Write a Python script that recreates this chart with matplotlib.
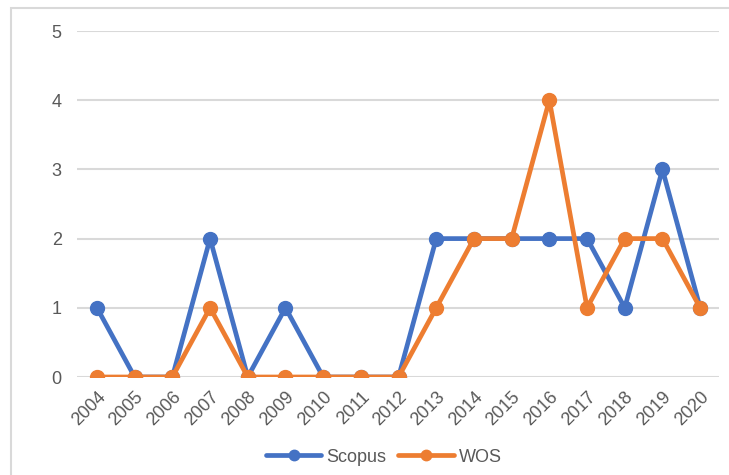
import matplotlib.pyplot as plt
from matplotlib.patches import Rectangle

# ==============================================
# Data
# ==============================================
years = ['2004', '2005', '2006', '2007', '2008', '2009', '2010', '2011', '2012',
         '2013', '2014', '2015', '2016', '2017', '2018', '2019', '2020']
scopus = [1, 0, 0, 2, 0, 1, 0, 0, 0, 2, 2, 2, 2, 2, 1, 3, 1]
wos = [0, 0, 0, 1, 0, 0, 0, 0, 0, 1, 2, 2, 4, 1, 2, 2, 1]

plt.rcParams['font.family'] = ['Liberation Sans', 'DejaVu Sans']

fig = plt.figure(figsize=(7.29, 4.75), dpi=100)
ax = fig.add_axes([77 / 729, 98 / 475, 642 / 729, 346 / 475])

# chart-area border (Excel style)
fig.patches.append(Rectangle((11 / 729, -0.05), 1.0, (475 - 8) / 475 + 0.05,
                             transform=fig.transFigure, fill=False,
                             edgecolor='#D9D9D9', linewidth=1.5))

x = range(len(years))
ax.plot(x, scopus, color='#4472C4', linewidth=3.4, marker='o', markersize=10,
        label='Scopus', solid_capstyle='round', zorder=3)
ax.plot(x, wos, color='#ED7D31', linewidth=3.4, marker='o', markersize=10,
        label='WOS', solid_capstyle='round', zorder=4)

ax.set_xlim(-0.53, len(years) - 0.5)
ax.set_ylim(0, 5)
ax.set_yticks(range(6))
ax.yaxis.grid(True, color='#D9D9D9', linewidth=1.5)
ax.set_axisbelow(True)
for s in ['top', 'right', 'left', 'bottom']:
    ax.spines[s].set_visible(False)

ax.set_xticks(list(x))
ax.set_xticklabels(years, rotation=45, ha='right', rotation_mode='anchor')
ax.tick_params(axis='both', length=0, labelsize=13, labelcolor='#595959')
ax.tick_params(axis='y', pad=11)
ax.tick_params(axis='x', pad=8)

ax.legend(loc='center', bbox_to_anchor=(384 / 729, 18 / 475),
          bbox_transform=fig.transFigure, ncol=2, frameon=False,
          fontsize=13, labelcolor='#595959', handlelength=3.05,
          columnspacing=0.66, handletextpad=0.3, markerscale=0.75)

plt.savefig('out.png', dpi=100)
